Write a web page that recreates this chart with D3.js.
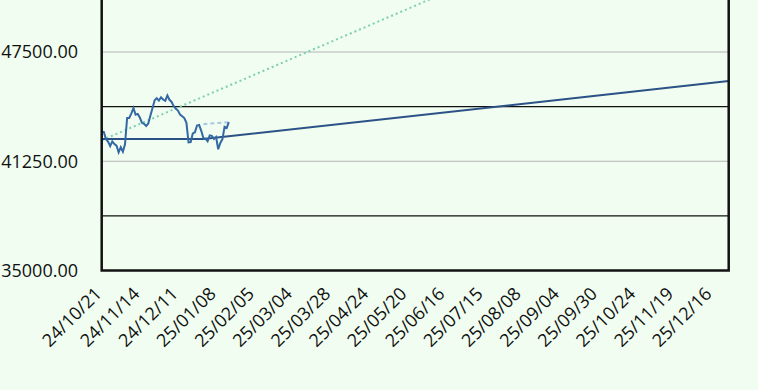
<!DOCTYPE html>
<html>
<head>
<meta charset="utf-8">
<script src="https://cdn.jsdelivr.net/npm/d3@7"></script>
<style>
  html, body { margin: 0; padding: 0; background: #f0fdf0; }
  svg { display: block; font-family: "Open Sans", sans-serif; }
</style>
</head>
<body>
<svg id="chart" width="758" height="390"></svg>
<script>
// daily closes, one per trading day from 24/10/21
const closes = [
  42931, 42925, 42514, 42374, 42114,
  42387, 42233, 42142, 41763, 42052,
  41794, 42222, 43729, 43729, 43989,
  44293, 43911, 43958, 43751, 43445,
  43390, 43269, 43408, 43870, 44297,
  44736, 44860, 44722, 44911,
  44782, 44705, 45014, 44766, 44643,
  44401, 44248, 44149, 43914, 43828,
  43717, 43450, 42327, 42342, 42840,
  42907, 43297, 43326, 42992,
  42574, 42544, 42392, 42732,
  42706, 42528, 42635, 41938,
  42297, 42518, 43222, 43153, 43488
];

// x labels, one every 18 trading days
const tickLabels = [
  "24/10/21", "24/11/14", "24/12/11", "25/01/08", "25/02/05", "25/03/04",
  "25/03/28", "25/04/24", "25/05/20", "25/06/16", "25/07/15", "25/08/08",
  "25/09/04", "25/09/30", "25/10/24", "25/11/19", "25/12/16"
];
const tickStep = 18;
const lastIndex = 296;

const yLabels = [35000, 41250, 47500];
const grayLines = [41250, 47500, 53750];
const blackLines = [38125, 44375, 50625];

// [index, value] pairs
const forecastLine = [[0, 42520], [48, 42520], [296, 45840]];
const trendLine = [[0, 42450], [296, 57850]];
const recentLine = [[48, 43370], [60, 43490]];

// ==========================
// SETUP
// ==========================
const svg = d3.select("#chart");
const plotLeft = 101.7, plotRight = 728.7, plotBottom = 270.5, plotTop = -57.25;

const x = d3.scaleLinear().domain([0, lastIndex]).range([plotLeft, plotRight]);
const y = d3.scaleLinear().domain([35000, 53750]).range([plotBottom, plotTop]);

svg.append("defs").append("clipPath").attr("id", "plot-clip")
  .append("rect")
  .attr("x", plotLeft).attr("y", plotTop)
  .attr("width", plotRight - plotLeft).attr("height", plotBottom - plotTop);

const plot = svg.append("g").attr("clip-path", "url(#plot-clip)");

// grid lines
plot.selectAll(".grid-gray")
  .data(grayLines)
  .enter().append("line")
  .attr("x1", plotLeft).attr("x2", plotRight)
  .attr("y1", d => y(d)).attr("y2", d => y(d))
  .attr("stroke", "#b4b4b4")
  .attr("stroke-width", 1.2);

plot.selectAll(".grid-black")
  .data(blackLines)
  .enter().append("line")
  .attr("x1", plotLeft).attr("x2", plotRight)
  .attr("y1", d => y(d)).attr("y2", d => y(d))
  .attr("stroke", "#111")
  .attr("stroke-width", 1.3);

const line = d3.line().x(d => x(d[0])).y(d => y(d[1]));

// trend (dotted)
plot.append("path")
  .datum(trendLine)
  .attr("d", line)
  .attr("fill", "none")
  .attr("stroke", "#7ccfb0")
  .attr("stroke-width", 2)
  .attr("stroke-dasharray", "2 3");

// forecast
plot.append("path")
  .datum(forecastLine)
  .attr("d", line)
  .attr("fill", "none")
  .attr("stroke", "#2b5186")
  .attr("stroke-width", 2);

// recent (dashed)
plot.append("path")
  .datum(recentLine)
  .attr("d", line)
  .attr("fill", "none")
  .attr("stroke", "#a6c8e6")
  .attr("stroke-width", 2)
  .attr("stroke-dasharray", "4 3");

// price
plot.append("path")
  .datum(closes.map((v, i) => [i, v]))
  .attr("d", line)
  .attr("fill", "none")
  .attr("stroke", "#3468a4")
  .attr("stroke-width", 2);

// frame
svg.append("path")
  .attr("d", `M${plotLeft},${plotTop}V${plotBottom}H${plotRight}V${plotTop}`)
  .attr("fill", "none")
  .attr("stroke", "#111")
  .attr("stroke-width", 2.5);

// y labels
svg.selectAll(".ylab")
  .data(yLabels)
  .enter().append("text")
  .attr("x", 78)
  .attr("y", d => y(d))
  .attr("dy", "0.35em")
  .attr("text-anchor", "end")
  .attr("font-size", 18)
  .attr("fill", "#111")
  .text(d => d.toFixed(2));

// x labels
svg.selectAll(".xlab")
  .data(tickLabels)
  .enter().append("text")
  .attr("transform", (d, i) => `translate(${x(i * tickStep) + 1},295) rotate(-45)`)
  .attr("text-anchor", "end")
  .attr("font-size", 18)
  .attr("fill", "#111")
  .text(d => d);
</script>
</body>
</html>
